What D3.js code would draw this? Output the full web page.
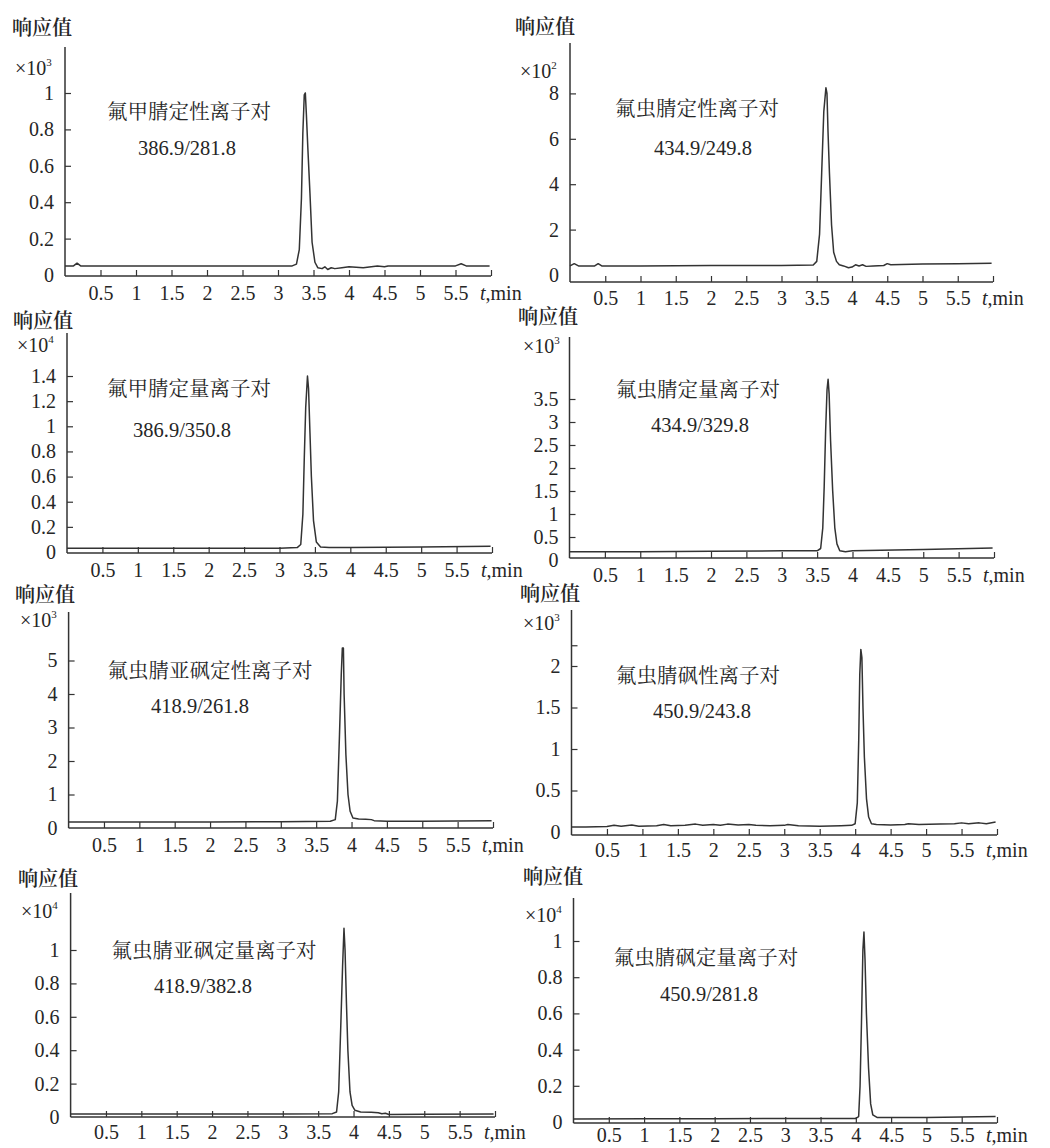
<!DOCTYPE html>
<html>
<head>
<meta charset="utf-8">
<script src="https://cdn.jsdelivr.net/npm/d3@7"></script>
<style>
body{margin:0;background:#fff;}
svg text{fill:#262626;}
</style>
</head>
<body>
<svg id="chart" width="1050" height="1148"></svg>
<script>
// chromatogram traces, [time (min), response (x 10^n)]
const desulfinylQual = [[0,0.05],[0.12,0.05],[0.17,0.065],[0.22,0.05],[1,0.05],[2,0.05],[3,0.05],[3.2,0.05],[3.26,0.06],[3.3,0.14],[3.33,0.42],[3.35,0.78],[3.37,0.99],[3.385,1.0],[3.4,0.88],[3.42,0.7],[3.45,0.45],[3.48,0.18],[3.52,0.07],[3.56,0.04],[3.62,0.035],[3.66,0.045],[3.7,0.03],[3.75,0.04],[3.8,0.035],[3.9,0.04],[4,0.045],[4.2,0.04],[4.4,0.05],[4.5,0.045],[4.55,0.05],[5,0.05],[5.5,0.05],[5.58,0.062],[5.65,0.05],[5.98,0.05]];
const fipronilQual = [[0,0.4],[0.06,0.5],[0.12,0.4],[0.35,0.4],[0.4,0.5],[0.45,0.4],[1,0.4],[2,0.42],[3,0.42],[3.45,0.44],[3.5,0.6],[3.54,1.8],[3.57,4.5],[3.6,7.2],[3.63,8.25],[3.645,8.0],[3.66,6.3],[3.68,4.5],[3.71,2.2],[3.74,1.0],[3.78,0.6],[3.82,0.45],[3.88,0.4],[3.95,0.32],[4,0.35],[4.05,0.45],[4.1,0.4],[4.15,0.45],[4.2,0.38],[4.3,0.4],[4.45,0.42],[4.5,0.5],[4.55,0.45],[5,0.48],[5.5,0.5],[5.98,0.52]];
const desulfinylQuant = [[0,0.03],[1,0.03],[2,0.03],[3,0.03],[3.25,0.035],[3.3,0.06],[3.33,0.3],[3.35,0.75],[3.37,1.15],[3.395,1.4],[3.41,1.3],[3.43,0.95],[3.45,0.6],[3.48,0.25],[3.52,0.08],[3.58,0.04],[3.7,0.035],[4,0.035],[5,0.04],[5.98,0.045]];
const fipronilQuant = [[0,0.18],[1,0.18],[2,0.19],[3,0.2],[3.5,0.2],[3.55,0.25],[3.58,0.7],[3.6,1.6],[3.62,2.8],[3.64,3.7],[3.655,3.93],[3.67,3.6],[3.69,2.6],[3.72,1.5],[3.75,0.7],[3.78,0.35],[3.82,0.2],[3.9,0.18],[4,0.2],[5,0.23],[5.98,0.26]];
const sulfoxideQual = [[0,0.18],[1,0.18],[2,0.18],[3,0.19],[3.7,0.2],[3.77,0.25],[3.8,0.8],[3.83,2.8],[3.855,4.6],[3.87,5.37],[3.885,5.37],[3.895,4.0],[3.92,2.2],[3.95,1.0],[3.98,0.5],[4.02,0.3],[4.1,0.27],[4.2,0.26],[4.28,0.25],[4.32,0.22],[4.5,0.2],[5,0.2],[5.98,0.22]];
const sulfoneQual = [[0,0.06],[0.2,0.06],[0.5,0.065],[0.6,0.08],[0.7,0.07],[0.85,0.085],[0.95,0.07],[1.2,0.075],[1.3,0.09],[1.4,0.075],[1.6,0.08],[1.75,0.095],[1.85,0.08],[2,0.09],[2.1,0.08],[2.2,0.095],[2.35,0.085],[2.5,0.09],[2.6,0.08],[2.8,0.075],[3,0.08],[3.05,0.09],[3.2,0.075],[3.5,0.07],[3.8,0.075],[3.95,0.08],[4,0.1],[4.03,0.35],[4.05,1.1],[4.065,1.9],[4.08,2.2],[4.095,2.1],[4.11,1.5],[4.13,0.9],[4.16,0.4],[4.19,0.18],[4.23,0.1],[4.3,0.09],[4.5,0.085],[4.7,0.09],[4.75,0.1],[4.9,0.09],[5.2,0.095],[5.4,0.1],[5.5,0.11],[5.6,0.1],[5.75,0.11],[5.85,0.1],[5.98,0.12]];
const sulfoxideQuant = [[0,0.018],[1,0.018],[2,0.018],[3,0.018],[3.7,0.02],[3.76,0.03],[3.79,0.15],[3.82,0.55],[3.845,0.9],[3.865,1.13],[3.88,1.0],[3.9,0.68],[3.92,0.4],[3.95,0.15],[3.98,0.07],[4.02,0.04],[4.1,0.03],[4.25,0.028],[4.35,0.026],[4.4,0.02],[4.45,0.022],[4.5,0.015],[5,0.016],[5.98,0.018]];
const sulfoneQuant = [[0,0.017],[1,0.018],[2,0.018],[3,0.02],[4,0.02],[4.04,0.03],[4.06,0.2],[4.08,0.55],[4.1,0.95],[4.115,1.05],[4.13,0.9],[4.15,0.6],[4.18,0.3],[4.21,0.1],[4.24,0.04],[4.3,0.025],[5,0.025],[5.98,0.03]];

const traces = [desulfinylQual, fipronilQual, desulfinylQuant, fipronilQuant, sulfoxideQual, sulfoneQual, sulfoxideQuant, sulfoneQuant];
const titles = ["氟甲腈定性离子对","氟虫腈定性离子对","氟甲腈定量离子对","氟虫腈定量离子对","氟虫腈亚砜定性离子对","氟虫腈砜性离子对","氟虫腈亚砜定量离子对","氟虫腈砜定量离子对"];
const ionPairs = ["386.9/281.8","434.9/249.8","386.9/350.8","434.9/329.8","418.9/261.8","450.9/243.8","418.9/382.8","450.9/281.8"];
const exponents = ["3","2","4","3","3","3","4","4"];
const yTicks = [
    [0,0.2,0.4,0.6,0.8,1],
    [0,2,4,6,8],
    [0,0.2,0.4,0.6,0.8,1,1.2,1.4],
    [0,0.5,1,1.5,2,2.5,3,3.5],
    [0,1,2,3,4,5],
    [0,0.5,1,1.5,2,2.25],
    [0,0.2,0.4,0.6,0.8,1],
    [0,0.2,0.4,0.6,0.8,1]
];
const yUnlabeled = [2.25];
const xTicks = [0.5,1,1.5,2,2.5,3,3.5,4,4.5,5,5.5,6];
const xDomain = [0, 6];
const yLabel = "响应值";

// geometry of each panel (pixels)
const layout = [
    {x0:65,   x6:491, yZero:275,  unit:182,   axisY:276,  topY:47,  lbl:[12,35],   exp:[15,75],   title:[189,119], ion:[187,155], xlab:24},
    {x0:570,  x6:993, yZero:275,  unit:22.7,  axisY:282,  topY:43,  lbl:[515,34],  exp:[520,78],  title:[697,116], ion:[703,155], xlab:23},
    {x0:67,   x6:492, yZero:552,  unit:125.7, axisY:553,  topY:333, lbl:[13,328],  exp:[17,352],  title:[189,396], ion:[182,437], xlab:24},
    {x0:569.5,x6:994, yZero:560,  unit:46,    axisY:558,  topY:337, lbl:[518,324], exp:[523,353], title:[698,397], ion:[700,432], xlab:24},
    {x0:68.6, x6:493, yZero:828,  unit:33.5,  axisY:828,  topY:612, lbl:[15,602],  exp:[20,627],  title:[210,678], ion:[200,713], xlab:24},
    {x0:571.5,x6:997, yZero:832,  unit:83,    axisY:835,  topY:610, lbl:[520,601], exp:[523,630], title:[698,683], ion:[702,718], xlab:22},
    {x0:70.6, x6:495, yZero:1117, unit:167,   axisY:1117, topY:893, lbl:[18,886],  exp:[21,918],  title:[214,958], ion:[203,993], xlab:22},
    {x0:573.5,x6:997, yZero:1122, unit:181,   axisY:1123, topY:898, lbl:[523,884], exp:[525,922], title:[706,965], ion:[709,1001], xlab:19}
];

const ink = "#333";
const numFont = "Liberation Serif";
const cjkFont = "Noto Serif CJK SC";
const svg = d3.select("#chart");

function drawPanel(i){
    let L = layout[i];
    let g = svg.append("g");

    let x = d3.scaleLinear().domain(xDomain).range([L.x0, L.x6]);
    let y = d3.scaleLinear().domain([0, 1]).range([L.yZero, L.yZero - L.unit]);

    // axis lines
    g.append("line").attr("x1", L.x0).attr("x2", L.x0).attr("y1", L.topY).attr("y2", L.axisY)
        .attr("stroke", ink).attr("stroke-width", 1.5);
    g.append("line").attr("x1", L.x0).attr("x2", L.x6).attr("y1", L.axisY).attr("y2", L.axisY)
        .attr("stroke", ink).attr("stroke-width", 1.5);

    // x ticks pointing inward
    let xAxis = g.append("g").attr("transform", `translate(0,${L.axisY})`)
        .call(d3.axisBottom(x).tickValues(xTicks).tickSizeInner(-6).tickSizeOuter(0).tickPadding(L.xlab - 14)
            .tickFormat(d => d === 6 ? "" : String(d)));
    xAxis.select(".domain").remove();
    xAxis.attr("font-family", numFont).attr("font-size", 20);
    xAxis.selectAll("line").attr("stroke", ink).attr("stroke-width", 1.2);
    xAxis.selectAll("text").attr("fill", null);

    // y ticks pointing inward
    let yAxis = g.append("g").attr("transform", `translate(${L.x0},0)`)
        .call(d3.axisLeft(y).tickValues(yTicks[i]).tickSizeInner(-6).tickSizeOuter(0).tickPadding(11)
            .tickFormat(d => yUnlabeled.includes(d) ? "" : String(d)));
    yAxis.select(".domain").remove();
    yAxis.attr("font-family", numFont).attr("font-size", 20);
    yAxis.selectAll("line").attr("stroke", ink).attr("stroke-width", 1.2)
        .attr("opacity", d => d === 0 ? 0 : 1);
    yAxis.selectAll("text").attr("fill", null);

    // trace
    let line = d3.line().x(d => x(d[0])).y(d => y(d[1]));
    g.append("path").datum(traces[i]).attr("d", line)
        .attr("fill", "none").attr("stroke", ink).attr("stroke-width", 1.5).attr("stroke-linejoin", "round");

    // labels
    g.append("text").attr("font-family", cjkFont).attr("font-size", 20).attr("font-weight", 600)
        .attr("x", L.lbl[0]).attr("y", L.lbl[1]).text(yLabel);

    let ex = g.append("text").attr("font-family", numFont).attr("font-size", 20)
        .attr("x", L.exp[0]).attr("y", L.exp[1]);
    ex.append("tspan").text("×10");
    ex.append("tspan").attr("font-size", 11).attr("dy", -9).text(exponents[i]);

    g.append("text").attr("font-family", cjkFont).attr("font-size", 20.5).attr("text-anchor", "middle")
        .attr("x", L.title[0]).attr("y", L.title[1]).text(titles[i]);
    g.append("text").attr("font-family", numFont).attr("font-size", 20.5).attr("text-anchor", "middle")
        .attr("x", L.ion[0]).attr("y", L.ion[1]).text(ionPairs[i]);

    let tl = g.append("text").attr("font-family", numFont).attr("font-size", 20)
        .attr("x", L.x6 - 11).attr("y", L.axisY + L.xlab);
    tl.append("tspan").attr("font-style", "italic").text("t");
    tl.append("tspan").text(",min");
}

d3.range(8).forEach(drawPanel);
</script>
</body>
</html>
